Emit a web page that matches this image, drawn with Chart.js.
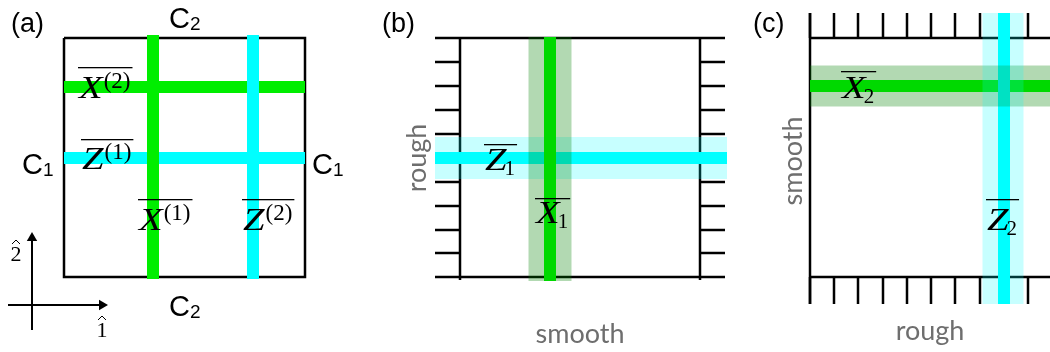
<!DOCTYPE html>
<html>
<head>
<meta charset="utf-8">
<script src="https://cdn.jsdelivr.net/npm/chart.js@4"></script>
<style>
  html, body { margin: 0; padding: 0; background: #fff; }
  canvas { display: block; }
</style>
</head>
<body>
<canvas id="canvas" width="1050" height="352"></canvas>
<script>
// ---- diagram data (in the chart's own x / y units) ----
// panel (a)
const aFrameX = [64, 305];
const aFrameY = [38, 277];
const aBarSpanY = [35, 279];
const aVertX = [153, 253];      // X(1) green, Z(2) cyan
const aHorzY = [87, 158];       // X(2) green, Z(1) cyan
// panel (b)
const bFrameX = [460, 700];
const bFrameY = [38, 277];
const bTicksY = [38, 62, 86, 110, 134, 158, 182, 206, 230, 253, 277];
const bGreenX = 550;
const bCyanY = 158;
// panel (c)
const cFrameX = [810, 1050];
const cFrameY = [38, 277];
const cTicksX = [810, 834, 858, 883, 907, 931, 955, 980, 1004, 1028];
const cGreenY = 86;
const cCyanX = 1004;
// axes sketch
const arrowOrigin = [32, 305];
const arrowEnds = [[8, 107], [330, 233]];

const panelLetters = ['(a)', '(b)', '(c)'];
const sideLabels = ['rough', 'smooth'];

const BLACK = '#000';
const GREEN_A = '#00ee00';
const GREEN = '#00ff00';
const CYAN = '#00ffff';
const GREEN_BAND = 'rgba(0,128,0,0.3)';
const CYAN_BAND = 'rgba(0,255,255,0.22)';

function seg(x1, y1, x2, y2, color, width) {
  return {
    data: [{x: x1, y: y1}, {x: x2, y: y2}],
    showLine: true, borderColor: color, borderWidth: width,
    pointRadius: 0, borderCapStyle: 'butt', fill: false, clip: false
  };
}

// painted bottom -> top
const layers = [];

// (a)
layers.push({
  data: [{x: aFrameX[0], y: aFrameY[0]}, {x: aFrameX[1], y: aFrameY[0]}, {x: aFrameX[1], y: aFrameY[1]},
         {x: aFrameX[0], y: aFrameY[1]}, {x: aFrameX[0], y: aFrameY[0]}],
  showLine: true, borderColor: BLACK, borderWidth: 2.5, pointRadius: 0,
  borderJoinStyle: 'miter', fill: false, clip: false
});
layers.push(seg(aFrameX[0], aHorzY[0], aFrameX[1], aHorzY[0], GREEN_A, 12));
layers.push(seg(aFrameX[0], aHorzY[1], aFrameX[1], aHorzY[1], CYAN, 12));
layers.push(seg(aVertX[0], aBarSpanY[0], aVertX[0], aBarSpanY[1], GREEN_A, 12));
layers.push(seg(aVertX[1], aBarSpanY[0], aVertX[1], aBarSpanY[1], CYAN, 12));
// axes sketch
layers.push(seg(arrowEnds[0][0], arrowOrigin[1], arrowEnds[0][1] - 6, arrowOrigin[1], BLACK, 2));
layers.push(seg(arrowOrigin[0], arrowEnds[1][0], arrowOrigin[0], arrowEnds[1][1] + 6, BLACK, 2));
layers.push({data: [{x: arrowEnds[0][1] - 5, y: arrowOrigin[1]}], pointStyle: 'triangle', pointRadius: 6,
  rotation: 90, backgroundColor: BLACK, borderWidth: 0, showLine: false, clip: false});
layers.push({data: [{x: arrowOrigin[0], y: arrowEnds[1][1] + 5}], pointStyle: 'triangle', pointRadius: 6,
  rotation: 0, backgroundColor: BLACK, borderWidth: 0, showLine: false, clip: false});

// (b)
bTicksY.forEach(y => {
  layers.push(seg(bFrameX[0] - 25, y, bFrameX[0], y, BLACK, 2.5));
  layers.push(seg(bFrameX[1], y, bFrameX[1] + 25, y, BLACK, 2.5));
});
layers.push(seg(bFrameX[0], bFrameY[0], bFrameX[1], bFrameY[0], BLACK, 2.5));
layers.push(seg(bFrameX[0], bFrameY[1], bFrameX[1], bFrameY[1], BLACK, 2.5));
layers.push(seg(bFrameX[0], bFrameY[0] - 1, bFrameX[0], bFrameY[1] + 3, BLACK, 2.5));
layers.push(seg(bFrameX[1], bFrameY[0] - 1, bFrameX[1], bFrameY[1] + 3, BLACK, 2.5));
layers.push(seg(bFrameX[0] - 25, bCyanY, bFrameX[1] + 27, bCyanY, CYAN, 12));
layers.push(seg(bFrameX[0] - 25, bCyanY, bFrameX[1] + 27, bCyanY, CYAN_BAND, 42));
layers.push(seg(bGreenX, bFrameY[0] - 1, bGreenX, bFrameY[1] + 4, GREEN, 12));
layers.push(seg(bGreenX, bFrameY[0] - 1, bGreenX, bFrameY[1] + 4, GREEN_BAND, 43));

// (c)
cTicksX.forEach(x => {
  layers.push(seg(x, cFrameY[0] - 25, x, cFrameY[0], BLACK, 2.5));
  layers.push(seg(x, cFrameY[1], x, cFrameY[1] + 27, BLACK, 2.5));
});
layers.push(seg(cFrameX[0], cFrameY[0], cFrameX[1], cFrameY[0], BLACK, 2.5));
layers.push(seg(cFrameX[0], cFrameY[1], cFrameX[1], cFrameY[1], BLACK, 2.5));
layers.push(seg(cFrameX[0], cFrameY[0] - 25, cFrameX[0], cFrameY[1] + 27, BLACK, 2.5));
layers.push(seg(cFrameX[0], cGreenY, cFrameX[1], cGreenY, GREEN, 12));
layers.push(seg(cCyanX, cFrameY[0] - 25, cCyanX, cFrameY[1] + 27, CYAN, 12));
layers.push(seg(cFrameX[0], cGreenY, cFrameX[1], cGreenY, GREEN_BAND, 41));
layers.push(seg(cCyanX - 1, cFrameY[0] - 25, cCyanX - 1, cFrameY[1] + 27, CYAN_BAND, 41));

const datasets = layers.map((d, i) => Object.assign({}, d, {order: layers.length - i}));

// ---- text ----
const SANS = '"Liberation Sans", Arial, sans-serif';
const HUMAN = 'Lato, "Open Sans", sans-serif';
const SERIF = '"Liberation Serif", "Times New Roman", serif';

const mathLabels = [
  {base: 'X', script: '(2)', mode: 'sup', x: 79, y: 98, over: 67},
  {base: 'Z', script: '(1)', mode: 'sup', x: 82, y: 169, over: 139},
  {base: 'X', script: '(1)', mode: 'sup', x: 139, y: 230, over: 199},
  {base: 'Z', script: '(2)', mode: 'sup', x: 243, y: 230, over: 199},
  {base: 'Z', script: '1', mode: 'sub', x: 485, y: 170, over: 144},
  {base: 'X', script: '1', mode: 'sub', x: 536, y: 223, over: 198},
  {base: 'X', script: '2', mode: 'sub', x: 842, y: 98, over: 71},
  {base: 'Z', script: '2', mode: 'sub', x: 987, y: 230, over: 199}
];

function px(chart, x, y) {
  return [chart.scales.x.getPixelForValue(x), chart.scales.y.getPixelForValue(y)];
}

function drawMath(ctx, chart, m) {
  const [x, y] = px(chart, m.x, m.y);
  const [, oy] = px(chart, m.x, m.over);
  ctx.fillStyle = BLACK;
  ctx.textBaseline = 'alphabetic';
  ctx.textAlign = 'left';
  ctx.font = 'italic 31px ' + SERIF;
  const stretch = 1.25;
  const bw = ctx.measureText(m.base).width * stretch;
  ctx.save();
  ctx.translate(x, y);
  ctx.scale(stretch, 1);
  ctx.fillText(m.base, 0, 0);
  ctx.restore();
  ctx.font = (m.mode === 'sup' ? '23px ' : '21px ') + SERIF;
  const sx = x + bw + (m.mode === 'sup' ? 1 : -2);
  const sy = m.mode === 'sup' ? y - 10 : y + 5;
  ctx.fillText(m.script, sx, sy);
  const sw = ctx.measureText(m.script).width;
  ctx.fillRect(x - 1, oy, sx + sw - x + 3, 1.3);
}

function drawC(ctx, chart, sub, x, y) {
  const [X, Y] = px(chart, x, y);
  ctx.fillStyle = BLACK;
  ctx.textAlign = 'left';
  ctx.textBaseline = 'alphabetic';
  ctx.font = '29px ' + SANS;
  ctx.fillText('C', X, Y);
  const w = ctx.measureText('C').width;
  ctx.font = '19px ' + SANS;
  ctx.fillText(sub, X + w, Y + 2);
}

function drawHatDigit(ctx, chart, d, x, y) {
  const [X, Y] = px(chart, x, y);
  ctx.fillStyle = BLACK;
  ctx.textAlign = 'center';
  ctx.textBaseline = 'alphabetic';
  ctx.font = '22px ' + SERIF;
  ctx.fillText(d, X, Y);
  ctx.strokeStyle = BLACK;
  ctx.lineWidth = 1;
  ctx.beginPath();
  ctx.moveTo(X - 4, Y - 17);
  ctx.lineTo(X, Y - 21);
  ctx.lineTo(X + 4, Y - 17);
  ctx.stroke();
}

const textPlugin = {
  id: 'diagramText',
  afterDatasetsDraw(chart) {
    const ctx = chart.ctx;
    ctx.save();
    // panel letters
    ctx.fillStyle = BLACK;
    ctx.textAlign = 'left';
    ctx.textBaseline = 'alphabetic';
    ctx.font = '27px ' + SANS;
    [[11, 32], [382, 32], [753, 32]].forEach((p, i) => {
      const [X, Y] = px(chart, p[0], p[1]);
      ctx.fillText(panelLetters[i], X, Y);
    });
    drawC(ctx, chart, '2', 169, 28);
    drawC(ctx, chart, '2', 169, 316);
    drawC(ctx, chart, '1', 22, 174);
    drawC(ctx, chart, '1', 312, 174);
    drawHatDigit(ctx, chart, '2', 16, 261);
    drawHatDigit(ctx, chart, '1', 102, 337);
    mathLabels.forEach(m => drawMath(ctx, chart, m));
    // rough / smooth
    ctx.fillStyle = '#6e6e6e';
    ctx.font = '27px ' + HUMAN;
    ctx.textAlign = 'center';
    ctx.textBaseline = 'middle';
    let [X, Y] = px(chart, 580, 334);
    ctx.fillText(sideLabels[1], X, Y);
    [X, Y] = px(chart, 930, 331);
    ctx.fillText(sideLabels[0], X, Y);
    [X, Y] = px(chart, 417, 158);
    ctx.save(); ctx.translate(X, Y); ctx.rotate(-Math.PI / 2); ctx.fillText(sideLabels[0], 0, 0); ctx.restore();
    [X, Y] = px(chart, 793, 161);
    ctx.save(); ctx.translate(X, Y); ctx.rotate(-Math.PI / 2); ctx.fillText(sideLabels[1], 0, 0); ctx.restore();
    ctx.restore();
  }
};

new Chart(document.getElementById('canvas'), {
  type: 'scatter',
  data: {datasets: datasets},
  options: {
    responsive: false,
    animation: false,
    events: [],
    layout: {padding: 0, autoPadding: false},
    scales: {
      x: {type: 'linear', min: 0, max: 1050, display: false},
      y: {type: 'linear', min: 0, max: 352, reverse: true, display: false}
    },
    plugins: {legend: {display: false}, tooltip: {enabled: false}, title: {display: false}}
  },
  plugins: [textPlugin]
});
</script>
</body>
</html>
